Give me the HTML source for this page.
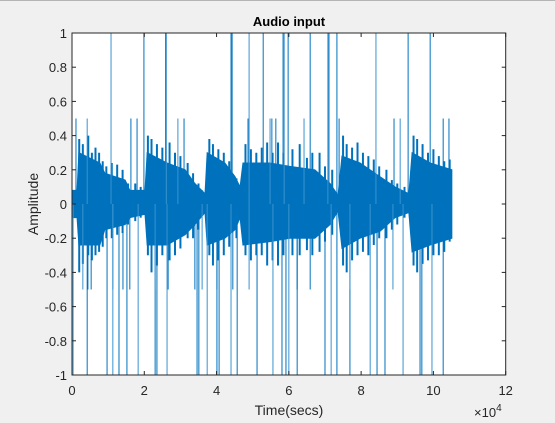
<!DOCTYPE html>
<html><head><meta charset="utf-8"><style>
html,body{margin:0;padding:0;background:#f0f0f0;}
svg{display:block;font-family:"Liberation Sans",Arial,sans-serif;}
</style></head><body>
<svg id="chart" width="555" height="423" viewBox="0 0 555 423">
<rect x="0" y="0" width="555" height="423" fill="#f0f0f0"/>
<line x1="0" y1="0.5" x2="555" y2="0.5" stroke="#b4b4b4"/>
<rect x="72" y="33" width="433.7" height="342" fill="#ffffff"/>
<g id="marks"></g>
<g id="axes"></g>
<text x="289" y="26" text-anchor="middle" font-size="13" font-weight="bold" fill="#000">Audio input</text>
<text x="289" y="415" text-anchor="middle" font-size="14" fill="#262626">Time(secs)</text>
<text transform="translate(38,204) rotate(-90)" text-anchor="middle" font-size="14" fill="#262626">Amplitude</text>
<text x="474" y="417" font-size="13" fill="#262626">×10<tspan font-size="10" dy="-6">4</tspan></text>
</svg>
<script>
// data in units of 1e4 samples
const envX  = [0,0.14,0.19,0.77,0.91,1.47,1.6,2.02,2.08,2.63,3.13,3.4,3.68,3.74,4.23,4.51,4.65,4.73,5.48,6.03,6.72,7.14,7.36,7.47,7.97,8.52,8.94,9.32,9.41,9.91,10.51];
const envHi = [0.08,0.08,0.3,0.24,0.18,0.14,0.08,0.08,0.3,0.24,0.2,0.12,0.06,0.3,0.24,0.16,0.1,0.24,0.24,0.22,0.2,0.12,0.05,0.28,0.24,0.16,0.1,0.06,0.3,0.24,0.2];
const envLo = [-0.08,-0.08,-0.24,-0.24,-0.15,-0.12,-0.08,-0.06,-0.24,-0.24,-0.18,-0.12,-0.05,-0.24,-0.2,-0.15,-0.08,-0.24,-0.22,-0.2,-0.2,-0.12,-0.04,-0.26,-0.2,-0.16,-0.08,-0.05,-0.28,-0.24,-0.2];
// medium-amplitude peaks giving the jagged edge
const peakX = [0.2,0.3,0.45,0.55,0.65,0.75,0.85,0.95,1.1,1.25,1.4,1.55,1.75,1.9,2.1,2.2,2.35,2.5,2.7,2.85,3.0,3.2,3.35,3.5,3.6,3.8,3.9,4.05,4.2,4.35,4.55,4.8,4.95,5.1,5.25,5.4,5.55,5.7,5.85,6.1,6.3,6.5,6.65,6.85,7.0,7.2,7.5,7.6,7.75,7.9,8.05,8.2,8.35,8.5,8.7,8.85,9.0,9.2,9.45,9.55,9.7,9.85,10.0,10.15,10.3,10.45];
const peakHi = [0.38,0.35,0.4,0.3,0.33,0.3,0.25,0.22,0.24,0.23,0.2,0.12,0.12,0.1,0.4,0.38,0.35,0.33,0.36,0.3,0.28,0.24,0.18,0.12,0.08,0.38,0.35,0.32,0.3,0.25,0.15,0.35,0.32,0.3,0.33,0.36,0.3,0.36,0.3,0.32,0.35,0.27,0.3,0.3,0.22,0.2,0.4,0.35,0.33,0.36,0.3,0.28,0.26,0.22,0.2,0.14,0.12,0.1,0.4,0.38,0.35,0.3,0.32,0.28,0.25,0.26];
const peakLo = [-0.4,-0.35,-0.3,-0.33,-0.3,-0.28,-0.25,-0.2,-0.2,-0.18,-0.17,-0.12,-0.1,-0.08,-0.3,-0.4,-0.36,-0.3,-0.33,-0.3,-0.26,-0.2,-0.2,-0.15,-0.07,-0.3,-0.36,-0.33,-0.3,-0.25,-0.2,-0.3,-0.33,-0.3,-0.3,-0.36,-0.33,-0.36,-0.3,-0.3,-0.3,-0.27,-0.3,-0.28,-0.22,-0.18,-0.36,-0.4,-0.33,-0.3,-0.28,-0.3,-0.24,-0.2,-0.2,-0.15,-0.12,-0.08,-0.36,-0.4,-0.35,-0.33,-0.3,-0.3,-0.28,-0.22];
const spikeX = [1.08,1.99,2.59,2.61,4.40,4.43,4.90,5.29,5.84,5.87,5.98,6.59,7.08,7.11,7.33,8.41,9.30,9.91,
 0.03,0.42,0.97,1.13,1.30,1.52,1.83,2.30,2.35,2.63,3.46,3.51,3.74,4.01,4.07,4.40,4.57,5.12,5.56,5.81,5.92,6.00,6.23,7.00,7.17,7.33,7.69,8.25,8.44,8.66,9.16,9.63,9.68,9.96,10.27,
 0.11,0.42,1.63,1.80,2.93,3.10,4.87,5.48,5.53,5.64,6.42,7.39,8.91,9.08,10.27,10.43,
 0.30,0.44,0.53,1.13,1.41,1.60,2.30,2.66,3.40,3.60,4.01,4.45,4.90,6.23,6.59,7.69,8.44,8.66,8.88];
const spikeY = [1,1,1,1,1,1,1,1,1,1,1,1,1,1,1,1,1,1,
 -1,-1,-1,-1,-1,-1,-1,-1,-1,-1,-1,-1,-1,-1,-1,-1,-1,-1,-1,-1,-1,-1,-1,-1,-1,-1,-1,-1,-1,-1,-1,-1,-1,-1,-1,
 0.5,0.5,0.5,0.5,0.5,0.5,0.5,0.5,0.5,0.5,0.5,0.5,0.5,0.5,0.5,0.5,
 -0.5,-0.5,-0.5,-0.5,-0.5,-0.5,-0.5,-0.5,-0.5,-0.5,-0.5,-0.5,-0.5,-0.5,-0.5,-0.5,-0.5,-0.5,-0.5];
const xTicks = [0,2,4,6,8,10,12];
const xTickLabels = ["0","2","4","6","8","10","12"];
const yTicks = [-1,-0.8,-0.6,-0.4,-0.2,0,0.2,0.4,0.6,0.8,1];
const yTickLabels = ["-1","-0.8","-0.6","-0.4","-0.2","0","0.2","0.4","0.6","0.8","1"];

const L=72,R=505.7,T=33,B=375;
const sx = v => L + v/12*(R-L);
const sy = v => B - (v+1)/2*(B-T);
const NS="http://www.w3.org/2000/svg";
const marks=document.getElementById('marks');
const axes=document.getElementById('axes');

let pts=[];
for(let i=0;i<envX.length;i++) pts.push(sx(envX[i])+','+sy(envHi[i]));
for(let i=envX.length-1;i>=0;i--) pts.push(sx(envX[i])+','+sy(envLo[i]));
const band=document.createElementNS(NS,'polygon');
band.setAttribute('points',pts.join(' '));
band.setAttribute('fill','#0072BD');
band.setAttribute('stroke','#0072BD');
band.setAttribute('stroke-width','1');


marks.appendChild(band);

for(let i=0;i<peakX.length;i++){
  const l=document.createElementNS(NS,'line');
  const x=sx(peakX[i]);
  l.setAttribute('x1',x);l.setAttribute('x2',x);
  l.setAttribute('y1',sy(peakLo[i]));l.setAttribute('y2',sy(peakHi[i]));
  l.setAttribute('stroke','#0072BD');
  l.setAttribute('stroke-width','2');
  
  
  marks.appendChild(l);
}

for(let i=0;i<spikeX.length;i++){
  const l=document.createElementNS(NS,'line');
  const x=sx(spikeX[i]);
  l.setAttribute('x1',x);l.setAttribute('x2',x);
  l.setAttribute('y1',sy(0));l.setAttribute('y2',sy(spikeY[i]));
  l.setAttribute('stroke',i%3===0?'#3a93cf':'#0072BD');
  l.setAttribute('stroke-width','1');
  
  
  marks.appendChild(l);
}

const box=document.createElementNS(NS,'rect');
box.setAttribute('x',L);box.setAttribute('y',T);box.setAttribute('width',R-L);box.setAttribute('height',B-T);
box.setAttribute('fill','none');box.setAttribute('stroke','#262626');box.setAttribute('stroke-width','1');


axes.appendChild(box);

xTicks.forEach((t,i)=>{
  const x=sx(t);
  [[B,B-4],[T,T+4]].forEach(p=>{
    const l=document.createElementNS(NS,'line');
    l.setAttribute('x1',x);l.setAttribute('x2',x);l.setAttribute('y1',p[0]);l.setAttribute('y2',p[1]);
    l.setAttribute('stroke','#262626');
    
    
    axes.appendChild(l);
  });
  const tx=document.createElementNS(NS,'text');
  tx.setAttribute('x',x);tx.setAttribute('y',B+20);tx.setAttribute('text-anchor','middle');
  tx.setAttribute('font-size','13');tx.setAttribute('fill','#262626');
  tx.textContent=xTickLabels[i];
  
  
  axes.appendChild(tx);
});
yTicks.forEach((t,i)=>{
  const y=sy(t);
  [[L,L+4],[R,R-4]].forEach(p=>{
    const l=document.createElementNS(NS,'line');
    l.setAttribute('x1',p[0]);l.setAttribute('x2',p[1]);l.setAttribute('y1',y);l.setAttribute('y2',y);
    l.setAttribute('stroke','#262626');
    
    
    axes.appendChild(l);
  });
  const tx=document.createElementNS(NS,'text');
  tx.setAttribute('x',L-5);tx.setAttribute('y',y+5);tx.setAttribute('text-anchor','end');
  tx.setAttribute('font-size','13');tx.setAttribute('fill','#262626');
  tx.textContent=yTickLabels[i];
  
  
  axes.appendChild(tx);
});
</script>
</body></html>
